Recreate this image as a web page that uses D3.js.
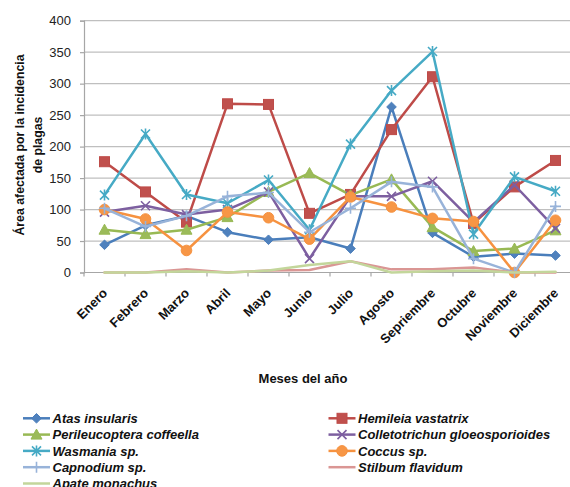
<!DOCTYPE html>
<html>
<head>
<meta charset="utf-8">
<script src="https://cdn.jsdelivr.net/npm/d3@7"></script>
<style>
  html, body { margin: 0; padding: 0; background: #ffffff; }
  svg { display: block; font-family: "Liberation Sans", Arial, sans-serif; }
</style>
</head>
<body>
<svg id="chart" width="570" height="487"></svg>
<script>
// Months (x categories) and y ticks
const months = ["Enero", "Febrero", "Marzo", "Abril", "Mayo", "Junio", "Julio",
  "Agosto", "Sepriembre", "Octubre", "Noviembre", "Diciembre"];
const yTicks = [0, 50, 100, 150, 200, 250, 300, 350, 400];

// Affected area per pest, month by month
const atasInsularis = [44, 75, 90, 64, 52, 56, 38, 263, 63, 25, 30, 27];
const hemileiaVastatrix = [176, 128, 80, 268, 267, 94, 124, 227, 311, 78, 136, 178];
const perileucopteraCoffeella = [68, 61, 68, 88, 128, 158, 123, 148, 72, 34, 38, 67];
const colletotrichunGloeosporioides = [96, 106, 92, 100, 128, 22, 121, 121, 145, 80, 139, 70];
const wasmaniaSp = [123, 220, 124, 110, 147, 68, 204, 289, 351, 61, 152, 129];
const coccusSp = [100, 85, 35, 96, 87, 53, 120, 104, 86, 81, 0, 83];
const capnodiumSp = [102, 73, 90, 121, 127, 64, 102, 144, 136, 22, 0, 105];
const stilbumFlavidum = [0, 0, 5, 0, 3, 4, 18, 5, 5, 8, 0, 0];
const apateMonachus = [0, 0, 2, 0, 3, 12, 18, 0, 2, 3, 0, 1];

const seriesNames = ["Atas insularis", "Hemileia vastatrix", "Perileucoptera coffeella",
  "Colletotrichun gloeosporioides", "Wasmania sp.", "Coccus sp.", "Capnodium sp.",
  "Stilbum flavidum", "Apate monachus"];
const seriesValues = [atasInsularis, hemileiaVastatrix, perileucopteraCoffeella,
  colletotrichunGloeosporioides, wasmaniaSp, coccusSp, capnodiumSp,
  stilbumFlavidum, apateMonachus];

const styles = [
  { line: "#4A7EBB", fill: "#4F81BD", marker: "diamond" },
  { line: "#BE4B48", fill: "#C0504D", marker: "square" },
  { line: "#98B954", fill: "#9BBB59", marker: "triangle" },
  { line: "#7D5FA0", fill: "#8064A2", marker: "x" },
  { line: "#46AAC5", fill: "#4BACC6", marker: "asterisk" },
  { line: "#F69240", fill: "#F79646", marker: "circle" },
  { line: "#98B3D9", fill: "#98B3D9", marker: "plus" },
  { line: "#DA9694", fill: "#DA9694", marker: "none" },
  { line: "#C3D69B", fill: "#C3D69B", marker: "none" }
];

const svg = d3.select("#chart");
svg.append("rect").attr("width", 570).attr("height", 487).attr("fill", "#fff");

const plot = { left: 84, right: 576, top: 20.7, bottom: 272.5 };

const x = d3.scaleBand().domain(months).range([plot.left, plot.right]).paddingInner(0).paddingOuter(0);
const y = d3.scaleLinear().domain([0, 400]).range([plot.bottom, plot.top]);
const cx = m => x(m) + x.bandwidth() / 2;

// Horizontal gridlines
svg.append("g").selectAll("line").data(yTicks.filter(t => t > 0)).join("line")
  .attr("x1", plot.left).attr("x2", plot.right)
  .attr("y1", d => y(d)).attr("y2", d => y(d))
  .attr("stroke", "#BFBFBF").attr("stroke-width", 1.2);

// Y axis
const yAxis = svg.append("g").attr("transform", `translate(${plot.left},0)`)
  .call(d3.axisLeft(y).tickValues(yTicks).tickSize(4).tickPadding(9));
yAxis.select(".domain").attr("stroke", "#A6A6A6").attr("stroke-width", 1.2);
yAxis.selectAll(".tick line").attr("stroke", "#A6A6A6").attr("stroke-width", 1.2);
yAxis.selectAll(".tick text").attr("font-size", 13).attr("fill", "#222")
  .attr("font-family", "Liberation Sans, Arial, sans-serif");

// X axis with ticks on the band boundaries
const xg = svg.append("g");
xg.append("line").attr("x1", plot.left).attr("x2", plot.right)
  .attr("y1", plot.bottom).attr("y2", plot.bottom)
  .attr("stroke", "#A6A6A6").attr("stroke-width", 1.2);
xg.selectAll("line.tk").data(months).join("line").attr("class", "tk")
  .attr("x1", d => x(d)).attr("x2", d => x(d))
  .attr("y1", plot.bottom).attr("y2", plot.bottom + 4)
  .attr("stroke", "#A6A6A6").attr("stroke-width", 1.2);
xg.selectAll("text").data(months).join("text")
  .attr("transform", d => `translate(${cx(d) + 3.7},294) rotate(-45)`)
  .attr("text-anchor", "end")
  .attr("font-size", 13).attr("font-weight", "bold").attr("fill", "#111")
  .text(d => d);

// Axis titles
const yTitle = svg.append("text")
  .attr("transform", "translate(0,145) rotate(-90)")
  .attr("text-anchor", "middle").attr("font-size", 12.3).attr("font-weight", "bold").attr("fill", "#111");
yTitle.append("tspan").attr("x", 0).attr("y", 24).text("Área afectada por la incidencia");
yTitle.append("tspan").attr("x", 0).attr("y", 41.5).text("de plagas");

svg.append("text").attr("x", 303).attr("y", 383)
  .attr("text-anchor", "middle").attr("font-size", 13).attr("font-weight", "bold").attr("fill", "#111")
  .text("Meses del año");

// Marker drawing
function drawMarker(g, kind, color, fill) {
  if (kind === "diamond") {
    g.append("path").attr("d", "M0,-4.8L4.8,0L0,4.8L-4.8,0Z").attr("fill", fill).attr("stroke", color).attr("stroke-width", 1);
  } else if (kind === "square") {
    g.append("rect").attr("x", -5).attr("y", -5).attr("width", 10).attr("height", 10)
      .attr("fill", fill).attr("stroke", color).attr("stroke-width", 1);
  } else if (kind === "triangle") {
    g.append("path").attr("d", "M0,-5.5L5.5,4.5L-5.5,4.5Z").attr("fill", fill).attr("stroke", color).attr("stroke-width", 1);
  } else if (kind === "circle") {
    g.append("circle").attr("r", 5.3).attr("fill", fill).attr("stroke", color).attr("stroke-width", 1);
  } else if (kind === "x") {
    g.append("path").attr("d", "M-4.5,-4.5L4.5,4.5M-4.5,4.5L4.5,-4.5").attr("stroke", color).attr("stroke-width", 1.6).attr("fill", "none");
  } else if (kind === "asterisk") {
    g.append("path").attr("d", "M-4.5,-4.5L4.5,4.5M-4.5,4.5L4.5,-4.5M0,-5.5L0,5.5").attr("stroke", color).attr("stroke-width", 1.6).attr("fill", "none");
  } else if (kind === "plus") {
    g.append("path").attr("d", "M-5.5,0L5.5,0M0,-5.5L0,5.5").attr("stroke", color).attr("stroke-width", 1.6).attr("fill", "none");
  }
}

const line = d3.line().x((d, i) => cx(months[i])).y(d => y(d));

// Series lines and markers
seriesValues.forEach((vals, si) => {
  const st = styles[si];
  const g = svg.append("g");
  g.append("path").datum(vals).attr("d", line)
    .attr("fill", "none").attr("stroke", st.line).attr("stroke-width", 2.5)
    .attr("stroke-linejoin", "round").attr("stroke-linecap", "round");
  if (st.marker !== "none") {
    vals.forEach((v, i) => {
      const mg = g.append("g").attr("transform", `translate(${cx(months[i])},${y(v)})`);
      drawMarker(mg, st.marker, st.line, st.fill);
    });
  }
});

// Legend: two columns
const legendRows = [418.3, 434.6, 450.9, 467.2, 483.5];
seriesNames.forEach((name, i) => {
  const col = i % 2;
  const row = Math.floor(i / 2);
  const x0 = col === 0 ? 23 : 328.5;
  const yy = legendRows[row];
  const st = styles[i];
  const g = svg.append("g").attr("transform", `translate(${x0},${yy})`);
  g.append("line").attr("x1", 0).attr("x2", 27).attr("y1", 0).attr("y2", 0)
    .attr("stroke", st.line).attr("stroke-width", 2.5);
  if (st.marker !== "none") {
    const mg = g.append("g").attr("transform", "translate(13.5,0)");
    drawMarker(mg, st.marker, st.line, st.fill);
  }
  g.append("text").attr("x", 29.5).attr("y", 4.6)
    .attr("font-size", 13).attr("font-weight", "bold").attr("font-style", "italic").attr("fill", "#111")
    .text(name);
});
</script>
</body>
</html>
